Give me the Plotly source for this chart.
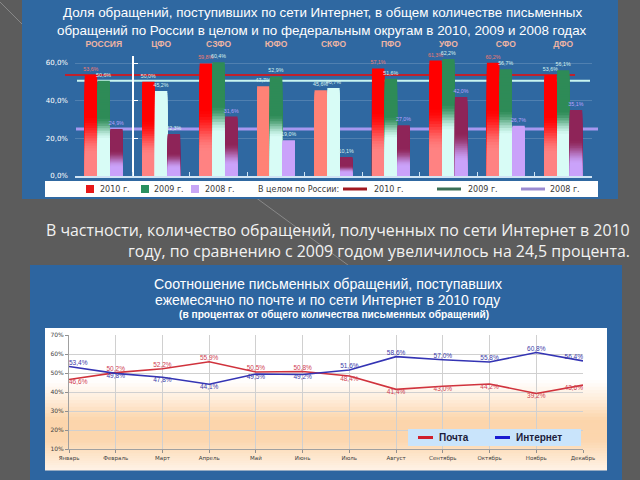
import plotly.graph_objects as go

# ---------------- data ----------------
regions = ["РОССИЯ", "ЦФО", "СЗФО", "ЮФО", "СКФО", "ПФО", "УФО", "СФО", "ДФО"]
share_2010 = [53.6, 50.0, 59.8, 47.7, 45.6, 57.1, 61.3, 60.2, 53.6]
share_2009 = [50.6, 45.2, 60.4, 52.9, 46.7, 51.6, 62.2, 56.7, 56.1]
share_2008 = [24.9, 22.3, 31.6, 19.0, 10.1, 27.0, 42.0, 26.7, 35.1]
bar_ticks = [0, 20, 40, 60]

months = ["Январь", "Февраль", "Март", "Апрель", "Май", "Июнь", "Июль",
          "Август", "Сентябрь", "Октябрь", "Ноябрь", "Декабрь"]
post_share = [46.6, 50.2, 52.2, 55.9, 50.5, 50.8, 48.4, 41.4, 43.0, 44.2, 39.2, 43.6]
internet_share = [53.4, 49.8, 47.8, 44.1, 49.5, 49.2, 51.6, 58.6, 57.0, 55.8, 60.8, 56.4]
line_ticks = [10, 20, 30, 40, 50, 60, 70]

# ---------------- helpers ----------------
W, H = 640, 480
def px(x): return x / W
def py(y): return 1 - y / H

def rgb(h):
    h = h.lstrip('#')
    return tuple(int(h[i:i + 2], 16) for i in (0, 2, 4))

def mix(c0, c1, t):
    a, b = rgb(c0), rgb(c1)
    return 'rgb(%d,%d,%d)' % tuple(round(x + (y - x) * t) for x, y in zip(a, b))

def ramp(f, lo, hi):
    if f <= lo:
        return 0.0
    if f >= hi:
        return 1.0
    u = (f - lo) / (hi - lo)
    return u * u * (3 - 2 * u)

def pct(v, d=1):
    return (f"{v:.{d}f}").replace('.', ',') + '%'

fig = go.Figure()

# dummy traces so that overlay axes are drawn (scatter layer stays beneath bars)
fig.add_trace(go.Scatter(x=[None], y=[None], xaxis='x2', yaxis='y', showlegend=False, hoverinfo='skip'))
fig.add_trace(go.Scatter(x=[None], y=[None], xaxis='x', yaxis='y2', showlegend=False, hoverinfo='skip'))

# ---------------- bars (stepped vertical gradients) ----------------
series = [
    dict(vals=share_2010, top="#ff0000", bot="#ff8282", pale="#ff8276",
         pale_flags=[0, 0, 0, 1, 1, 0, 0, 0, 0], lo=0.22, hi=0.6, offset=-0.33,
         label_colors=["#f07a70", "#d8f4f0", "#f07a70", "#d8f4f0", "#d8f4f0",
                       "#f07a70", "#f07a70", "#f07a70", "#d8f4f0"]),
    dict(vals=share_2009, top="#2e8b57", bot="#d8fcf6", pale="#d8fcf6",
         pale_flags=[0, 1, 0, 0, 1, 0, 0, 0, 0], lo=0.38, hi=0.62, offset=-0.108,
         label_colors=["#d8f4f0"] * 9),
    dict(vals=share_2008, top="#8e2458", bot="#caa2fa", pale="#caa2fa",
         pale_flags=[0, 0, 0, 1, 0, 0, 0, 1, 0], lo=0.18, hi=0.55, offset=0.114,
         label_colors=["#bba2ff", "#d8f4f0", "#bba2ff", "#d8f4f0", "#d8f4f0",
                       "#bba2ff", "#bba2ff", "#bba2ff", "#bba2ff"]),
]
N = 40
xs = list(range(len(regions)))
for s in series:
    for k in range(N):
        ftop = (N - k) / N
        fmid = (N - k - 0.5) / N
        t = ramp(fmid, s['lo'], s['hi'])
        cols = [s['pale'] if p else mix(s['bot'], s['top'], t) for p in s['pale_flags']]
        kw = {}
        if k == 0:
            kw = dict(text=[pct(v) for v in s['vals']], textposition='outside',
                      textfont=dict(family="Liberation Sans", size=5.3, color=s['label_colors']),
                      constraintext='none', cliponaxis=False)
        fig.add_trace(go.Bar(x=xs, y=[v * ftop for v in s['vals']], width=0.215,
                             offset=s['offset'], marker=dict(color=cols, line=dict(width=0)),
                             xaxis='x', yaxis='y', showlegend=False, hoverinfo='skip', **kw))

# ---------------- lines chart ----------------
def positions(a, b):
    out = []
    n = len(a)
    for i in range(n):
        v = 'top' if a[i] >= b[i] else 'bottom'
        h = 'right' if i == 0 else ('left' if i == n - 1 else 'center')
        out.append(f"{v} {h}")
    return out

fig.add_trace(go.Scatter(x=list(range(12)), y=post_share, mode='lines+text', name='Почта',
                         line=dict(color='#d0323c', width=1.6),
                         text=[pct(v) for v in post_share],
                         textposition=positions(post_share, internet_share),
                         textfont=dict(family="Liberation Sans", size=6.5, color='#d04050'),
                         xaxis='x3', yaxis='y3', showlegend=False, hoverinfo='skip', cliponaxis=False))
fig.add_trace(go.Scatter(x=list(range(12)), y=internet_share, mode='lines+text', name='Интернет',
                         line=dict(color='#3434b4', width=1.6),
                         text=[pct(v) for v in internet_share],
                         textposition=positions(internet_share, post_share),
                         textfont=dict(family="Liberation Sans", size=6.5, color='#3a3aa8'),
                         xaxis='x3', yaxis='y3', showlegend=False, hoverinfo='skip', cliponaxis=False))

# ---------------- shapes ----------------
shapes = []
def rect(x0, y0, x1, y1, color, layer='below'):
    shapes.append(dict(type='rect', xref='paper', yref='paper', x0=px(x0), x1=px(x1),
                       y0=py(y1), y1=py(y0), fillcolor=color, line=dict(width=0), layer=layer))
def pline(x0, y0, x1, y1, color, width, layer='below'):
    shapes.append(dict(type='line', xref='paper', yref='paper', x0=px(x0), x1=px(x1),
                       y0=py(y0), y1=py(y1), line=dict(color=color, width=width), layer=layer))

# decorative slide lines
pline(0, 2, 22, 24, 'rgba(190,190,190,0.45)', 1)
pline(255, 197, 352, 268, 'rgba(190,190,190,0.45)', 1)

# top panel
rect(22, 0, 618, 199, '#2f68a1')
# bottom panel
rect(30, 265, 622, 480, '#2d65a0')
# white chart area
rect(45, 328, 607, 470, '#ffffff')
# orange band (vertical gradient)
stops = [(380, '#ffffff'), (400, '#feecd9'), (420, '#fcd5ab'), (440, '#fcd6ae'),
         (456, '#fde6cc'), (470, '#fff2e6')]
for (ya, ca), (yb, cb) in zip(stops[:-1], stops[1:]):
    steps = 6
    for i in range(steps):
        y0 = ya + (yb - ya) * i / steps
        y1 = ya + (yb - ya) * (i + 1) / steps
        rect(45, y0, 607, y1 + 0.6, mix(ca, cb, (i + 0.5) / steps))

# Russia reference lines (behind bars)
ref_lines = [(share_2010[0], '#c0202c', 2, 65, 575),
             (share_2009[0], '#c8f4f0', 2, 77, 590),
             (share_2008[0], '#a898f0', 3, 76, 598)]
for v, c, w, xa, xb in ref_lines:
    shapes.append(dict(type='line', xref='paper', yref='y', x0=px(xa), x1=px(xb), y0=v, y1=v,
                       line=dict(color=c, width=w), layer='below'))

# top legend box
rect(45, 181, 598, 197, '#ffffff')
legend_sq = [(86, '#e81818', "2010 г.", 98), (141, '#2a9060', "2009 г.", 152),
             (191, '#c8a6f6', "2008 г.", 203)]
annots = []
for x0, c, label, tx in legend_sq:
    rect(x0, 185, x0 + 8, 193, c, layer='above')
    annots.append(dict(x=px(tx), y=py(189), text=label, xanchor='left', yanchor='middle'))
annots.append(dict(x=px(256), y=py(189), text="В целом по России:", xanchor='left', yanchor='middle'))
legend_ln = [(343, '#a01820', "2010 г.", 372), (437, '#3a6e55', "2009 г.", 466),
             (521, '#9a8ad0', "2008 г.", 548)]
for x0, c, label, tx in legend_ln:
    pline(x0, 189, x0 + 24, 189, c, 3, layer='above')
    annots.append(dict(x=px(tx), y=py(189), text=label, xanchor='left', yanchor='middle'))
for a in annots:
    a.update(xref='paper', yref='paper', showarrow=False,
             font=dict(family="DejaVu Sans", size=8, color='#3a3a3a'))

# bottom legend box
rect(408, 429, 581, 446, '#c9e4fb', layer='above')
pline(418, 437.5, 433, 437.5, '#d0202c', 3, layer='above')
pline(495, 437.5, 510, 437.5, '#1a1ad0', 3, layer='above')
for tx, label in [(437, 'Почта'), (514, 'Интернет')]:
    annots.append(dict(x=px(tx), y=py(437.5), text=label, xref='paper', yref='paper',
                       xanchor='left', yanchor='middle', showarrow=False,
                       font=dict(family="Liberation Sans", size=10, color='#1c1c3c', weight='bold')))

# titles & text
def txt(x, y, s, size, color='#ffffff', family="Liberation Sans", xanchor='center', weight='normal'):
    annots.append(dict(x=px(x), y=py(y), text=s, xref='paper', yref='paper', showarrow=False,
                       xanchor=xanchor, yanchor='middle',
                       font=dict(family=family, size=size, color=color, weight=weight)))

txt(322, 12, "Доля обращений, поступивших по сети Интернет, в общем количестве письменных", 13.4)
txt(322, 31, "обращений по России в целом и по федеральным округам в 2010, 2009 и 2008 годах", 13.4)
txt(328, 284, "Соотношение письменных обращений, поступавших", 14.2)
txt(327, 300, "ежемесячно по почте и по сети Интернет в 2010 году", 14)
txt(334, 314, "(в процентах от общего количества письменных обращений)", 10.2, weight='bold')
txt(632, 229.5, "В частности, количество обращений, полученных по сети Интернет в 2010", 15.9,
    color='#f2f2f2', family="Open Sans", xanchor='right')
txt(632, 251, "году, по сравнению с 2009 годом увеличилось на 24,5 процента.", 15.9,
    color='#f2f2f2', family="Open Sans", xanchor='right')

# ---------------- layout ----------------
bar_x_dom = [px(75), px(592)]
bar_y_dom = [py(176), py(55.5)]
ymax = 64

fig.update_layout(
    width=W, height=H, margin=dict(l=0, r=0, t=0, b=0, autoexpand=False),
    paper_bgcolor='#5c5c5c', plot_bgcolor='rgba(0,0,0,0)',
    barmode='overlay', showlegend=False,
    shapes=shapes, annotations=annots,
    xaxis=dict(domain=bar_x_dom, range=[-0.5, len(regions) - 0.5], anchor='y', automargin=False,
               tickvals=[i - 0.5 for i in range(len(regions) + 1)], ticks='inside', ticklen=4,
               tickcolor='#d0e4f4', showticklabels=False, showgrid=False, zeroline=False,
               showline=True, linecolor='#d0e4f4', linewidth=1.5),
    xaxis2=dict(overlaying='x', side='top', anchor='y', range=[-0.5, len(regions) - 0.5],
                automargin=False, tickvals=xs, ticktext=regions, ticks='', showgrid=False,
                showline=False, zeroline=False, ticklabelstandoff=6,
                tickfont=dict(family="Liberation Sans", size=8.5, color='#eeb4a4', weight='bold')),
    yaxis=dict(domain=bar_y_dom, range=[0, ymax], anchor='x', tickvals=bar_ticks, automargin=False,
               ticktext=[pct(v) for v in bar_ticks], showgrid=True,
               gridcolor='rgba(255,255,255,0.16)', zeroline=False, showline=False,
               ticklabelstandoff=6,
               tickfont=dict(family="DejaVu Sans", size=7, color='#ffffff')),
    yaxis2=dict(overlaying='y', anchor='free', position=px(133), range=[0, ymax], automargin=False,
                tickvals=bar_ticks[1:], ticks='inside', ticklen=4, tickcolor='#ffffff',
                showticklabels=False, showgrid=False, zeroline=False,
                showline=True, linecolor='#ffffff', linewidth=1.5),
    xaxis3=dict(domain=[px(69), px(583)], range=[0, 11], anchor='y3', automargin=False,
                tickvals=list(range(12)), ticktext=months, ticks='outside', ticklen=3,
                tickcolor='#909090', showgrid=True, gridcolor='#d0d0d0', zeroline=False,
                showline=True, linecolor='#a0a0a0', linewidth=1,
                tickfont=dict(family="DejaVu Sans", size=5.5, color='#404040')),
    yaxis3=dict(domain=[py(449), py(335)], range=[10, 70], anchor='x3', automargin=False,
                tickvals=line_ticks, ticktext=[f"{v}%" for v in line_ticks],
                ticks='outside', ticklen=3, tickcolor='#909090',
                showgrid=True, gridcolor='#d0d0d0', zeroline=False,
                showline=True, linecolor='#a0a0a0', linewidth=1,
                tickfont=dict(family="DejaVu Sans", size=6, color='#404040')),
)

fig.write_html("out.html", config={'displayModeBar': False},
               post_script="document.body.style.margin='0';"
                           "document.body.style.background='#5c5c5c';"
                           "document.body.style.overflow='hidden';")
